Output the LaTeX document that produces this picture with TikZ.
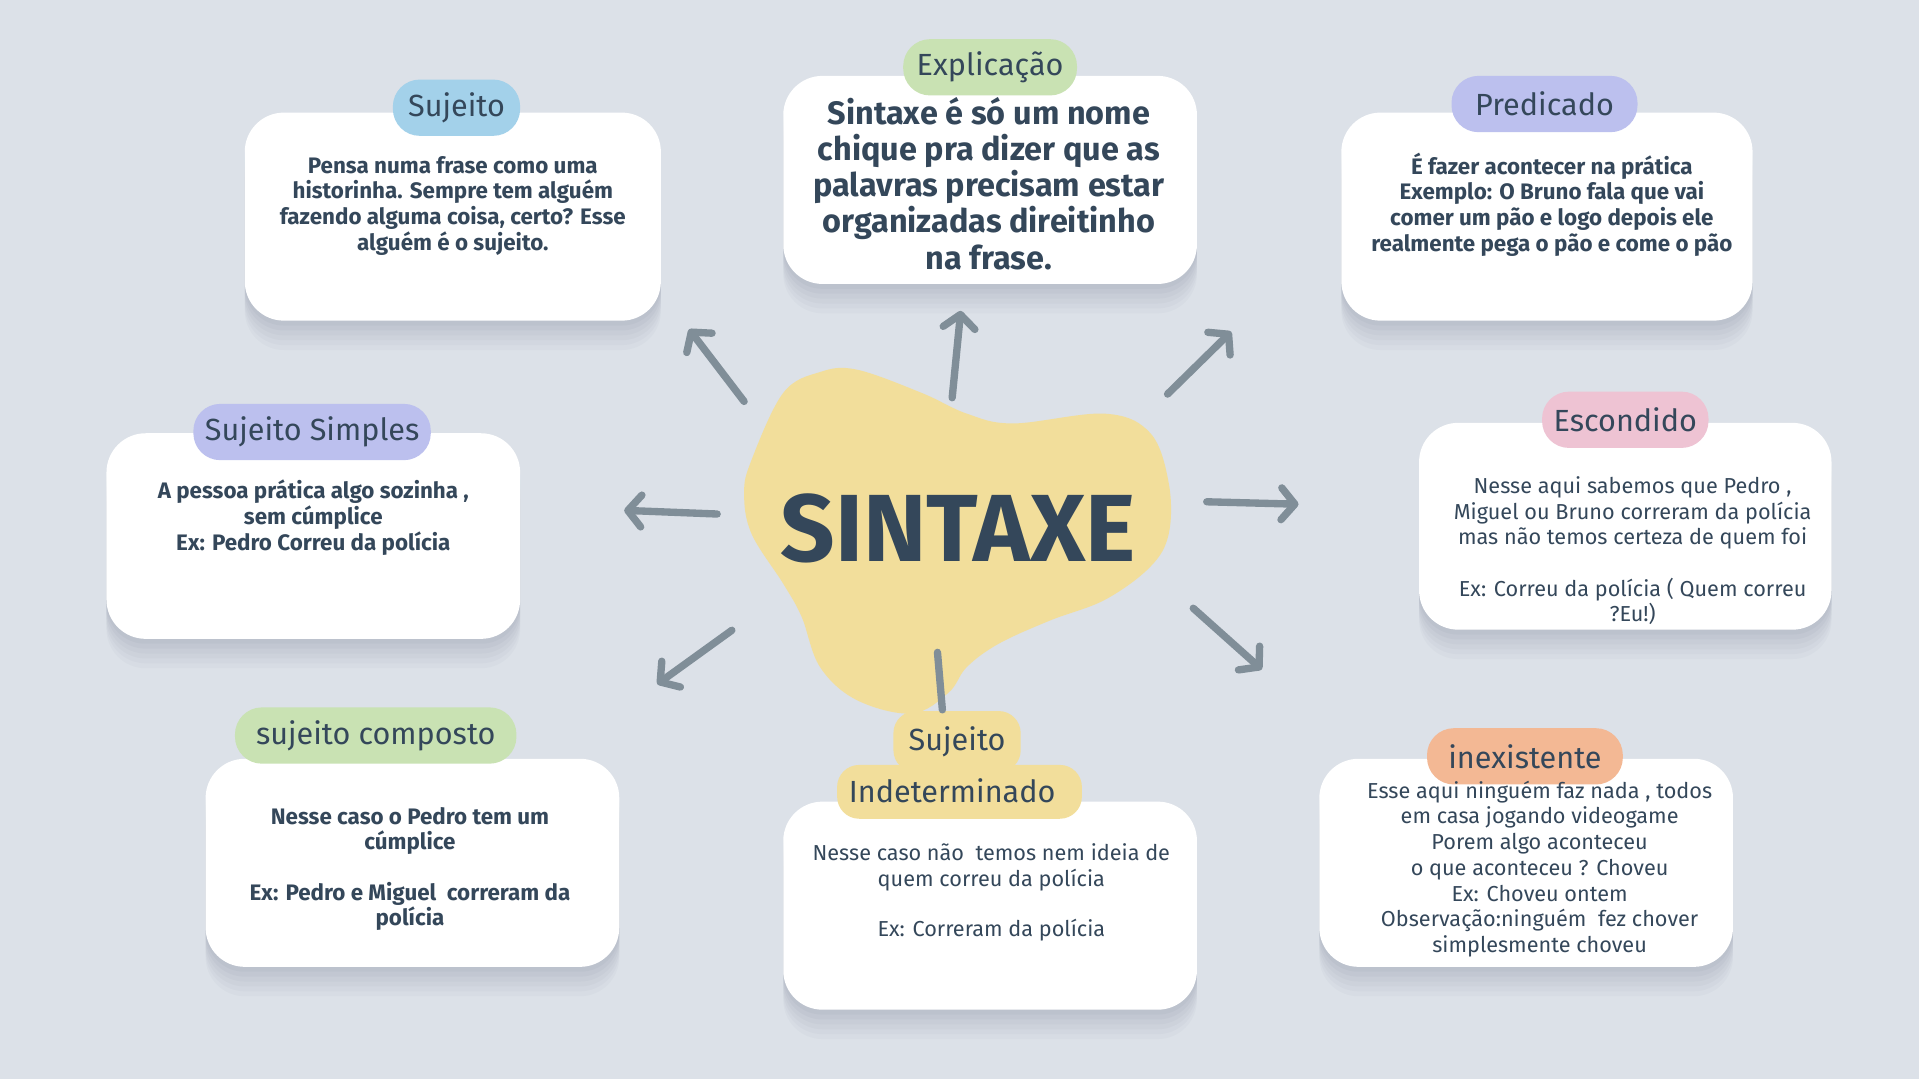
\documentclass[tikz,border=0pt]{standalone}
\usepackage{fontspec}
\setmainfont{Fira Sans}
\usetikzlibrary{arrows.meta}
\definecolor{bg}{HTML}{DCE1E8}
\definecolor{ink}{HTML}{34475A}
\definecolor{arrowc}{HTML}{808E98}
\definecolor{shade}{HTML}{5A6878}
\definecolor{tagblue}{HTML}{A3D1EA}
\definecolor{taggreen}{HTML}{C9E2B3}
\definecolor{tagpurple}{HTML}{BCC0EE}
\definecolor{tagpink}{HTML}{EEC3D3}
\definecolor{tagorange}{HTML}{F3B894}
\definecolor{tagyellow}{HTML}{F2DE9B}
\definecolor{blobc}{HTML}{F2DE9B}
\tikzset{
  softshadow/.style={
    preaction={fill=shade, fill opacity=0.035, transform canvas={yshift=-24pt}},
    preaction={fill=shade, fill opacity=0.035, transform canvas={yshift=-20pt}},
    preaction={fill=shade, fill opacity=0.04, transform canvas={yshift=-16pt}},
    preaction={fill=shade, fill opacity=0.04, transform canvas={yshift=-12pt}},
    preaction={fill=shade, fill opacity=0.05, transform canvas={yshift=-8pt}},
    preaction={fill=shade, fill opacity=0.05, transform canvas={yshift=-4pt}}},
  card/.style={rectangle, fill=white, rounded corners=32pt, inner sep=0pt,
    minimum width=338pt, minimum height=170pt, softshadow},
  tag/.style={rectangle, rounded corners=22pt, inner sep=0pt, minimum height=46pt, text=ink,
    font=\fontsize{25}{27}\selectfont},
  bodyreg/.style={align=center, text=ink, inner sep=0pt, font=\fontsize{17.7}{21}\selectfont},
  bodybold/.style={align=center, text=ink, inner sep=0pt, font=\fontsize{18.3}{21}\selectfont\bfseries},
  bigbold/.style={align=center, text=ink, inner sep=0pt, font=\fontsize{26.5}{29.5}\selectfont\bfseries},
  ray/.style={draw=arrowc, line width=6pt, line cap=round, line join=round,
    -{Straight Barb[length=11pt,width=26pt,round]}},
  stem/.style={draw=arrowc, line width=6pt, line cap=round},
}
\begin{document}
\begin{tikzpicture}[x=1pt,y=-1pt]
\fill[bg] (0,0) rectangle (1568,882);
\useasboundingbox (0,0) rectangle (1568,882);

% central blob
\fill[blobc] plot[smooth cycle, tension=0.6] coordinates {
 (640,321) (670,304) (700,302) (753,321) (790,338) (828,346) (903,338)
 (940,354) (955,395) (955,436) (940,463) (903,490) (858,507) (816,526)
 (790,545) (775,566) (745,583) (700,572) (670,545) (655,504) (640,477)
 (614,436) (608,403) (614,376)};
\node[font=\fontsize{78}{78}\selectfont\bfseries, text=ink, inner sep=0pt] (center) at (783,432) {SINTAXE};

% cards
\node[card, minimum width=340pt] (sujBox) at (370,177) {};
\node[card] (expBox) at (809,147) {};
\node[card, minimum width=336pt] (preBox) at (1264,177) {};
\node[card, minimum height=168pt] (simBox) at (256,438) {};
\node[card, minimum width=337pt, minimum height=169pt] (escBox) at (1328,430) {};
\node[card] (comBox) at (337,705) {};
\node[card] (indBox) at (809,740) {};
\node[card] (inxBox) at (1247,705) {};

% tags
\node[tag, fill=tagblue, minimum width=104pt] (sujTag) at (373,88) {Sujeito};
\node[tag, fill=taggreen, minimum width=142pt] (expTag) at (809,55) {Explicação};
\node[tag, fill=tagpurple, minimum width=152pt] (preTag) at (1262,85) {Predicado};
\node[tag, fill=tagpurple, minimum width=194pt] (simTag) at (255,353) {Sujeito Simples};
\node[tag, fill=tagpink, minimum width=136pt] (escTag) at (1328,343) {Escondido};
\node[tag, fill=taggreen, minimum width=230pt] (comTag) at (307,601) {sujeito composto};
\node[tag, fill=tagorange, minimum width=160pt] (inxTag) at (1246,618) {inexistente};
\node[tag, fill=tagyellow, rounded corners=18pt, minimum width=104pt, minimum height=50pt] (indTop) at (782,606) {Sujeito};
\node[tag, fill=tagyellow, rounded corners=18pt, minimum width=200pt, minimum height=44pt] (indBot) at (784,647) {};
\node[text=ink, font=\fontsize{25}{27}\selectfont, inner sep=0pt] (indLbl) at (778,646) {Indeterminado};

% texts
\node[bodybold] (sujTxt) at (370,168) {Pensa numa frase como uma\\historinha. Sempre tem alguém\\fazendo alguma coisa, certo? Esse\\alguém é o sujeito.};
\node[bigbold] (expTxt) at (808,150) {Sintaxe é só um nome\\chique pra dizer que as\\palavras precisam estar\\organizadas direitinho\\na frase.};
\node[bodybold] (preTxt) at (1268,167) {É fazer acontecer na prática\\Exemplo: O Bruno fala que vai\\comer um pão e logo depois ele\\realmente pega o pão e come o pão};
\node[bodybold] (simTxt) at (256,423) {A pessoa prática algo sozinha ,\\sem cúmplice\\Ex: Pedro Correu da polícia};
\node[bodyreg] (escTxt) at (1334,450) {Nesse aqui sabemos que Pedro ,\\Miguel ou Bruno correram da polícia\\mas não temos certeza de quem foi\\[21pt]Ex: Correu da polícia ( Quem correu\\?Eu!)};
\node[bodybold] (comTxt) at (335,710) {Nesse caso o Pedro tem um\\cúmplice\\[20pt]Ex: Pedro e Miguel~ correram da\\polícia};
\node[bodyreg] (indTxt) at (810,729) {Nesse caso não~ temos nem ideia de\\quem correu da polícia\\[20pt]Ex: Correram da polícia};
\node[bodyreg] (inxTxt) at (1258,710) {Esse aqui ninguém faz nada , todos\\em casa jogando videogame\\Porem algo aconteceu\\o que aconteceu ? Choveu\\Ex: Choveu ontem\\Observação:ninguém~ fez chover\\simplesmente choveu};

% ray end points
\coordinate (aUL0) at (608,328); \coordinate (aUL1) at (563,269);
\coordinate (aU0)  at (778,325); \coordinate (aU1)  at (785,254);
\coordinate (aUR0) at (954,322); \coordinate (aUR1) at (1006,271);
\coordinate (aL0)  at (586,420); \coordinate (aL1)  at (510,417);
\coordinate (aR0)  at (986,410); \coordinate (aR1)  at (1061,412);
\coordinate (aDL0) at (598,515); \coordinate (aDL1) at (537,559);
\coordinate (aDR0) at (975,497); \coordinate (aDR1) at (1031,547);
\coordinate (aD0)  at (766,533); \coordinate (aD1)  at (770,580);

\draw[ray] (aUL0) -- (aUL1);
\draw[ray] (aU0) -- (aU1);
\draw[ray] (aUR0) -- (aUR1);
\draw[ray] (aL0) -- (aL1);
\draw[ray] (aR0) -- (aR1);
\draw[ray] (aDL0) -- (aDL1);
\draw[ray] (aDR0) -- (aDR1);
\draw[stem] (aD0) -- (aD1);
\end{tikzpicture}
\end{document}
